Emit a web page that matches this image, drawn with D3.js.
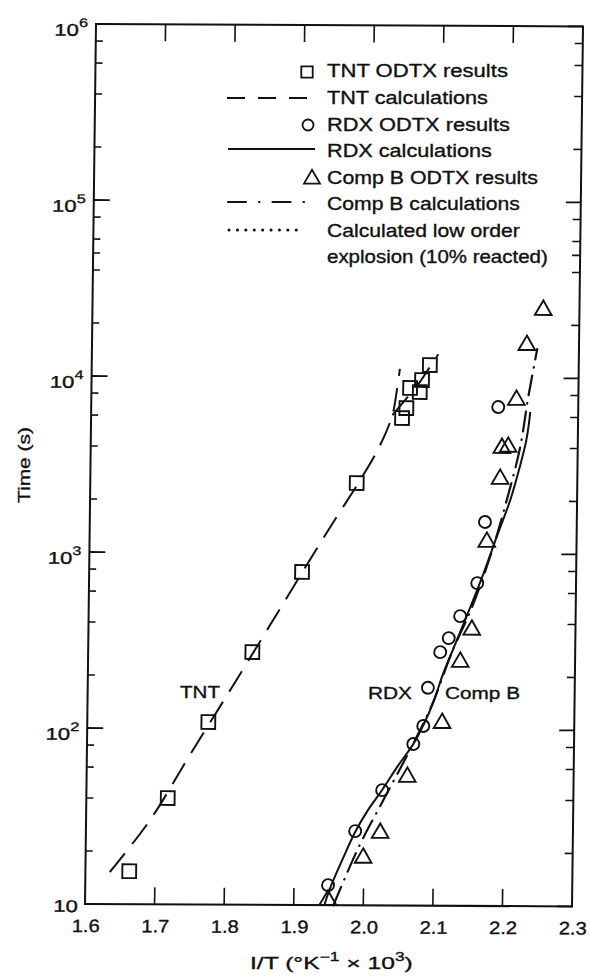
<!DOCTYPE html>
<html><head><meta charset="utf-8">
<script src="https://cdn.jsdelivr.net/npm/d3@7"></script>
<style>
body{margin:0;background:#fff}
text{font-family:"Liberation Sans",Arial,sans-serif;fill:#111;stroke:#111;stroke-width:0.35}
</style>
</head><body>
<svg id="c" width="590" height="977"></svg>
<script>
// ---------- data ----------
const tntX = [1.663,1.717,1.774,1.836,1.906,1.983,2.047,2.053,2.058,2.072,2.075,2.086];
const tntT = [15.4,40.2,109,273,781,2508,5888,6710,8730,8280,9690,11800];
const rdxX = [1.949,1.987,2.025,2.069,2.083,2.089,2.106,2.118,2.134,2.158,2.168,2.185];
const rdxT = [13.0,26.4,45.2,82.8,105,173,276,332,443,683,1520,6840];
const compBX = [1.949,1.999,2.023,2.061,2.110,2.135,2.151,2.171,2.189,2.191,2.200,2.211,2.225,2.248];
const compBT = [10.7,18.6,25.8,53.8,109,243,370,1170,2670,4000,4060,7510,15400,24400];

const tntCalcX = [1.635,1.692,1.748,1.805,1.861,1.910,1.952,1.988,2.016,2.033,2.039,2.043];
const tntCalcT = [15.2,30.1,70.7,166,389,822,1545,2610,4130,6120,8490,11200];
const tntCalc2X = [2.033,2.051,2.069,2.086,2.098];
const tntCalc2T = [6120,7450,9080,11500,13600];
const rdxCalcX = [1.944,1.952,1.969,1.987,2.005,2.025,2.047,2.069,2.085,2.098,2.110,2.124,2.144,2.166,2.186,2.204,2.217,2.226,2.230,2.231];
const rdxCalcT = [10,12.5,18.1,26.1,34.8,45.3,62.0,82.8,110,147,205,284,449,759,1282,2030,3125,4450,5790,6430];
const compBCalcX = [1.957,1.993,2.027,2.062,2.095,2.123,2.151,2.179,2.199,2.217,2.228,2.236,2.240];
const compBCalcT = [10,21.7,39.7,73.6,138,277,499,1054,2030,4010,7820,11900,14650];

const xTicks = [1.6,1.7,1.8,1.9,2.0,2.1,2.2,2.3];
const xTickLabels = ["1.6","1.7","1.8","1.9","2.0","2.1","2.2","2.3"];
const yMajor = [10,1e2,1e3,1e4,1e5,1e6];
const yMajorExp = ["","2","3","4","5","6"];
const yMinor = [20,40,60,80,200,400,600,800,2000,4000,6000,8000,2e4,4e4,5e4,6e4,8e4,2e5,4e5,6e5,8e5];

const legendItems = ["TNT ODTX results","TNT calculations","RDX ODTX results","RDX calculations",
  "Comp B ODTX results","Comp B calculations","Calculated low order","explosion (10% reacted)"];

// ---------- layout ----------
const W = 487, H = 880;
const svg = d3.select("#c");
const x = d3.scaleLinear().domain([1.6,2.3]).range([0,W]);
const y = d3.scaleLog().domain([10,1e6]).range([H,0]);
const ink = "#111";

function fitText(parent, px, py, anchor, size, build, width, rot, k0) {
  const t = parent.append("text").attr("font-size", size).attr("text-anchor", anchor);
  build(t);
  const w = t.node().getBBox().width;
  const k = width ? width / w : (k0 || 1);
  t.attr("transform", `translate(${px},${py})${rot ? ` rotate(${rot})` : ""} scale(${k},1)`);
  return t;
}

const g = svg.append("g").attr("transform", "matrix(1,0.005,-0.0125,1,96,24)");

// frame
g.append("rect").attr("x",0).attr("y",0).attr("width",W).attr("height",H)
  .attr("fill","none").attr("stroke",ink).attr("stroke-width",2);

// y ticks
yMajor.forEach(v => {
  const yy = y(v);
  g.append("line").attr("x1",0).attr("x2",16).attr("y1",yy).attr("y2",yy).attr("stroke",ink).attr("stroke-width",1.8);
  g.append("line").attr("x1",W).attr("x2",W-15).attr("y1",yy).attr("y2",yy).attr("stroke",ink).attr("stroke-width",1.8);
});
yMinor.forEach(v => {
  const yy = y(v);
  g.append("line").attr("x1",0).attr("x2",7).attr("y1",yy).attr("y2",yy).attr("stroke",ink).attr("stroke-width",1.6);
  g.append("line").attr("x1",W).attr("x2",W-8).attr("y1",yy).attr("y2",yy).attr("stroke",ink).attr("stroke-width",1.6);
});
// x ticks
xTicks.slice(1,-1).forEach(v => {
  const xx = x(v);
  g.append("line").attr("x1",xx).attr("x2",xx).attr("y1",H).attr("y2",H-17).attr("stroke",ink).attr("stroke-width",1.6);
  g.append("line").attr("x1",xx).attr("x2",xx).attr("y1",0).attr("y2",17).attr("stroke",ink).attr("stroke-width",1.6);
});

// y tick labels
yMajor.forEach((v,i) => {
  const e = yMajorExp[i];
  fitText(g, e ? -8 : -7, y(v) + (e ? 12 : 8), "end", 17, t => {
    t.append("tspan").text("10");
    if (e) t.append("tspan").attr("font-size",12.5).attr("dy",-9).text(e);
  }, null, null, 1.3);
});
// x tick labels
xTicks.forEach((v,i) => {
  fitText(g, x(v)+1, H+28, "middle", 18, t => t.text(xTickLabels[i]), 28);
});

// curves
const line = d3.line().x(d => x(d[0])).y(d => y(d[1])).curve(d3.curveCatmullRom.alpha(0.5));
const zip = (a,b) => a.map((v,i) => [v,b[i]]);

g.append("path").attr("d", line(zip(tntCalcX,tntCalcT))).attr("fill","none")
  .attr("stroke",ink).attr("stroke-width",2).attr("stroke-dasharray","24,12");
g.append("path").attr("d", line(zip(tntCalc2X,tntCalc2T))).attr("fill","none")
  .attr("stroke",ink).attr("stroke-width",2).attr("stroke-dasharray","24,12");
g.append("path").attr("d", line(zip(rdxCalcX,rdxCalcT))).attr("fill","none")
  .attr("stroke",ink).attr("stroke-width",2);
g.append("path").attr("d", line(zip(compBCalcX,compBCalcT))).attr("fill","none")
  .attr("stroke",ink).attr("stroke-width",2.2).attr("stroke-linecap","round").attr("stroke-dasharray","20,8,0.5,8");

// markers
const sq = d3.symbol().type(d3.symbolSquare).size(190);
const tri = d3.symbol().type(d3.symbolTriangle).size(120);
g.selectAll(".tnt").data(zip(tntX,tntT)).join("path").attr("class","tnt")
  .attr("d", sq).attr("transform", d => `translate(${x(d[0])},${y(d[1])})`)
  .attr("fill","none").attr("stroke",ink).attr("stroke-width",1.9);
g.selectAll(".rdx").data(zip(rdxX,rdxT)).join("circle").attr("class","rdx")
  .attr("cx", d => x(d[0])).attr("cy", d => y(d[1])).attr("r",6)
  .attr("fill","none").attr("stroke",ink).attr("stroke-width",1.9);
g.selectAll(".cb").data(zip(compBX,compBT)).join("path").attr("class","cb")
  .attr("d", tri).attr("transform", d => `translate(${x(d[0])},${y(d[1])})`)
  .attr("fill","none").attr("stroke",ink).attr("stroke-width",1.9);

// ---------- legend (absolute) ----------
const L = svg.append("g");
const rowY = [77,104,131,157,184,210,237,263];
const rowW = [181,161,183,165,211,193,193,221];
legendItems.forEach((s,i) => fitText(L, 327, rowY[i], "start", 18, t => t.text(s), rowW[i]));
L.append("path").attr("d", sq.size(130)()).attr("transform","translate(307,72)")
  .attr("fill","none").attr("stroke",ink).attr("stroke-width",1.8);
L.append("circle").attr("cx",308).attr("cy",125).attr("r",5.5)
  .attr("fill","none").attr("stroke",ink).attr("stroke-width",1.8);
L.append("path").attr("d", tri.size(110)()).attr("transform","translate(312,179)")
  .attr("fill","none").attr("stroke",ink).attr("stroke-width",1.8);
L.append("line").attr("x1",227).attr("x2",317).attr("y1",98).attr("y2",98)
  .attr("stroke",ink).attr("stroke-width",2.2).attr("stroke-dasharray","18,13");
L.append("line").attr("x1",228).attr("x2",315).attr("y1",149).attr("y2",149)
  .attr("stroke",ink).attr("stroke-width",2);
L.append("line").attr("x1",228).attr("x2",315).attr("y1",202).attr("y2",202)
  .attr("stroke",ink).attr("stroke-width",2.2).attr("stroke-linecap","round").attr("stroke-dasharray","18,13,0.5,13");
L.append("line").attr("x1",229).attr("x2",300).attr("y1",230).attr("y2",230)
  .attr("stroke",ink).attr("stroke-width",3).attr("stroke-linecap","round").attr("stroke-dasharray","0.1,8.3");

// annotations
fitText(svg, 180, 698, "start", 17, t => t.text("TNT"), 40);
fitText(svg, 368, 699, "start", 17, t => t.text("RDX"), 44);
fitText(svg, 445, 699, "start", 17, t => t.text("Comp B"), 75);

// axis titles
fitText(svg, 30, 465, "middle", 17, t => t.text("Time (s)"), 76, -90);
fitText(svg, 250, 969, "start", 17, t => {
  t.append("tspan").text("I/T (°K");
  t.append("tspan").attr("font-size",12).attr("dy",-8).text("−1");
  t.append("tspan").attr("dy",8).text(" × 10");
  t.append("tspan").attr("font-size",12).attr("dy",-8).text("3");
  t.append("tspan").attr("dy",8).text(")");
}, 163);
</script>
</body></html>
